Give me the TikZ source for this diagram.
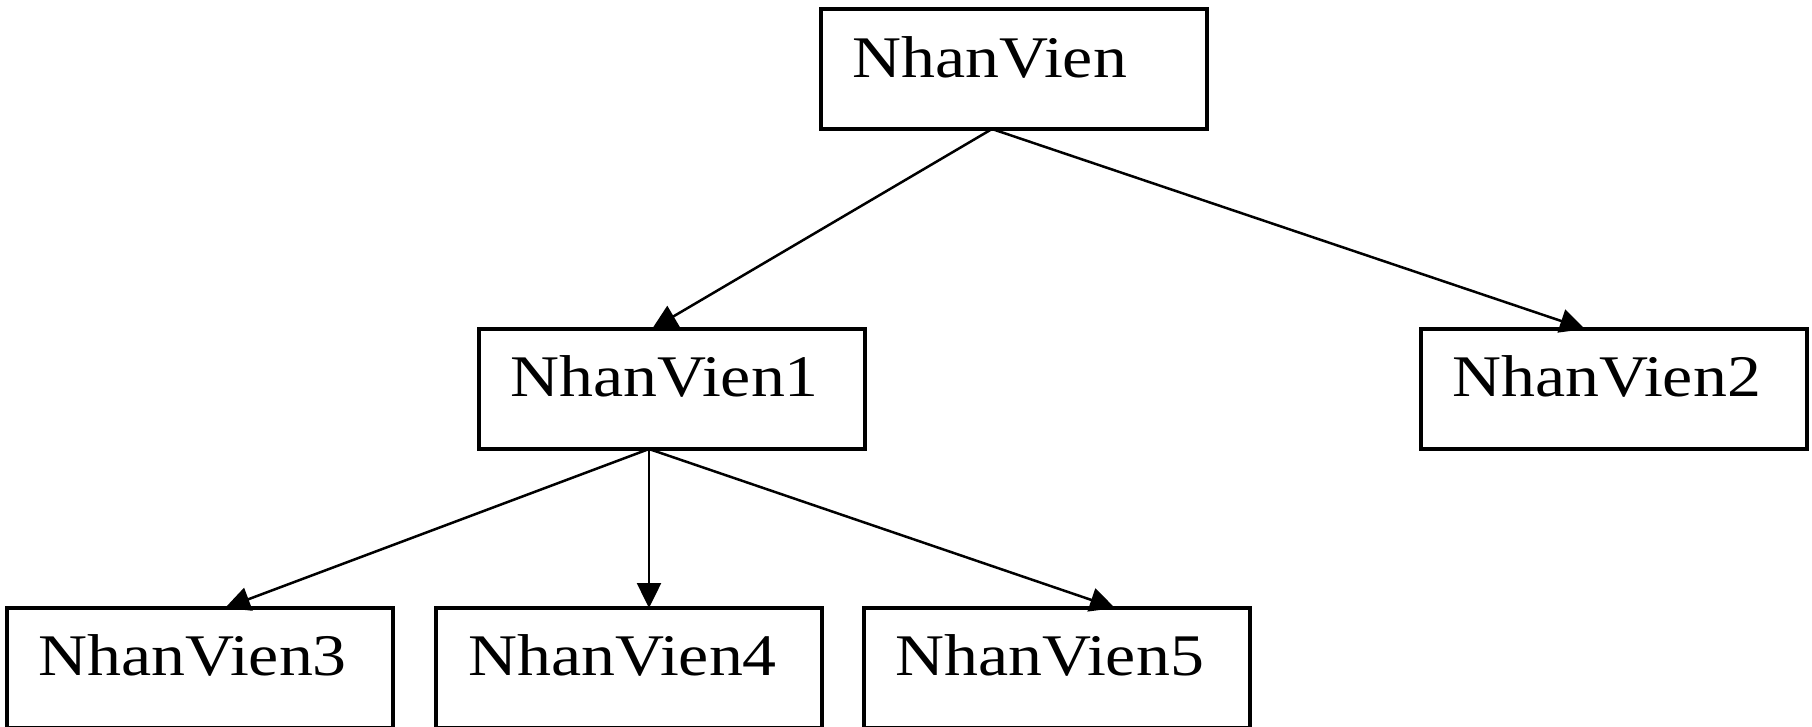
\documentclass[tikz,border=0pt]{standalone}
\usepackage{fontspec}
\setmainfont{Liberation Serif}[FakeStretch=1.15]
\usetikzlibrary{arrows.meta,calc}
\begin{document}
\begin{tikzpicture}[x=1pt,y=-1pt,
  box/.style={draw, line width=3.2pt, rectangle, minimum width=386pt,
    minimum height=120pt, anchor=north west, inner sep=0pt, outer sep=0pt},
  lbl/.style={anchor=base west, inner sep=0pt, font=\fontsize{59}{70}\selectfont},
  link/.style={line width=2.5pt, -{Triangle[length=25pt,width=24pt]}}]
\useasboundingbox (0,0) rectangle (1812,726);

% employee boxes
\node[box] (nv)  at (821,9)   {};
\node[box] (nv1) at (479,329) {};
\node[box] (nv2) at (1421,329) {};
\node[box] (nv3) at (7,608)   {};
\node[box] (nv4) at (436,608) {};
\node[box] (nv5) at (864,608) {};

% names, set near the top of each box
\node[lbl] (t)  at ($(nv.north west)+(31,68)$)  {NhanVien};
\node[lbl] (t1) at ($(nv1.north west)+(31,67)$) {NhanVien1};
\node[lbl] (t2) at ($(nv2.north west)+(31,67)$) {NhanVien2};
\node[lbl] (t3) at ($(nv3.north west)+(31,67)$) {NhanVien3};
\node[lbl] (t4) at ($(nv4.north west)+(32,67)$) {NhanVien4};
\node[lbl] (t5) at ($(nv5.north west)+(31,67)$) {NhanVien5};

% hierarchy links
\draw[link] ($(nv.south west)+(171,0)$) -- ($(nv1.north west)+(173,0)$);
\draw[link] ($(nv.south west)+(171,0)$) -- ($(nv2.north west)+(164,0)$);
\draw[link] ($(nv1.south west)+(170,0)$) -- ($(nv3.north west)+(218,0)$);
\draw[link] ($(nv1.south west)+(170,0)$) -- ($(nv4.north west)+(213,0)$);
\draw[link] ($(nv1.south west)+(170,0)$) -- ($(nv5.north west)+(251,0)$);
\end{tikzpicture}
\end{document}
